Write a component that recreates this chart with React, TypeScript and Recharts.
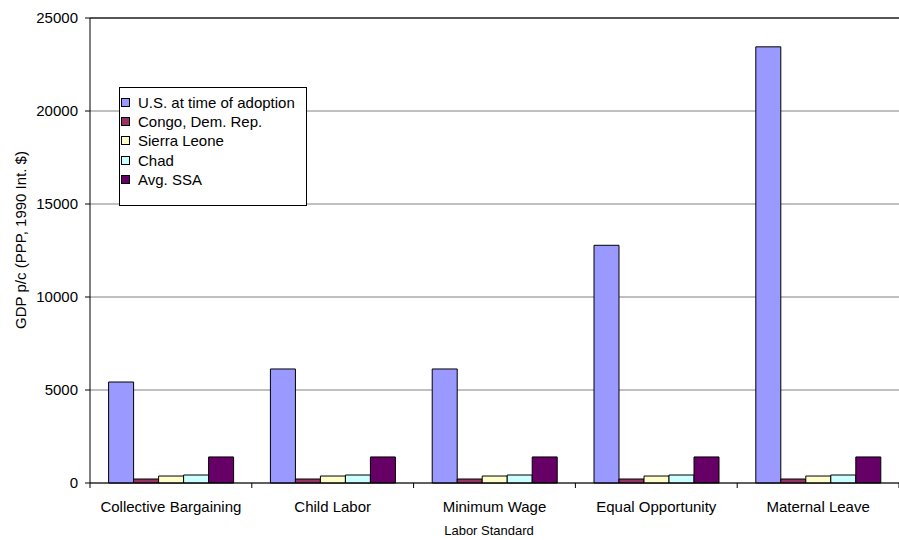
import React from 'react';
import { BarChart, Bar, XAxis, YAxis, CartesianGrid, Legend, ReferenceLine } from 'recharts';

// ─── Data ──────────────────────────────────────────────────────────────────────
const CATEGORIES = ['Collective Bargaining', 'Child Labor', 'Minimum Wage', 'Equal Opportunity', 'Maternal Leave'];
const US_AT_ADOPTION = [5430, 6130, 6130, 12780, 23450];
const CONGO = [215, 215, 215, 215, 215];
const SIERRA_LEONE = [375, 375, 375, 375, 375];
const CHAD = [430, 430, 430, 430, 430];
const AVG_SSA = [1400, 1400, 1400, 1400, 1400];
const Y_TICKS = [0, 5000, 10000, 15000, 20000, 25000];

const SERIES = [
    { key: 'us', name: 'U.S. at time of adoption', values: US_AT_ADOPTION, color: '#9999FF' },
    { key: 'congo', name: 'Congo, Dem. Rep.', values: CONGO, color: '#993366' },
    { key: 'sl', name: 'Sierra Leone', values: SIERRA_LEONE, color: '#FFFFCC' },
    { key: 'chad', name: 'Chad', values: CHAD, color: '#CCFFFF' },
    { key: 'ssa', name: 'Avg. SSA', values: AVG_SSA, color: '#660066' },
];

const data = CATEGORIES.map((name, i) => {
    const row: Record<string, string | number> = { name };
    SERIES.forEach(s => { row[s.key] = s.values[i]; });
    return row;
});

// ─── Layout ────────────────────────────────────────────────────────────────────
const W = 899;
const H = 540;
const Y_AXIS_W = 90;
const BAND = (W - Y_AXIS_W) / CATEGORIES.length;
const FONT = '"Liberation Sans", Arial, Helvetica, sans-serif';

// tick marks sit between categories, like Excel
const CategoryTick = ({ x, y, payload, index }: any) => (
    <g>
        <line x1={x - BAND / 2} x2={x - BAND / 2} y1={y - 5} y2={y} stroke="#000" />
        {index === CATEGORIES.length - 1 && (
            <line x1={x + BAND / 2} x2={x + BAND / 2} y1={y - 5} y2={y} stroke="#000" />
        )}
        <text x={x} y={y + 13} dy="0.71em" textAnchor="middle" fill="#000" fontSize={15} fontFamily={FONT}>
            {payload.value}
        </text>
    </g>
);

const LegendBox = () => (
    <div style={{
        boxSizing: 'border-box', width: 188, height: 119, border: '1px solid #000',
        background: '#fff', paddingTop: 5, fontFamily: FONT, fontSize: 15, color: '#000',
    }}>
        {SERIES.map(s => (
            <div key={s.key} style={{ display: 'flex', alignItems: 'center', height: 19.2, whiteSpace: 'nowrap' }}>
                <span style={{
                    display: 'inline-block', boxSizing: 'border-box', width: 9, height: 9,
                    border: '1px solid #000', background: s.color, marginLeft: 1, marginRight: 8,
                }} />
                {s.name}
            </div>
        ))}
    </div>
);

export default function App() {
    return (
        <div style={{ position: 'absolute', left: 0, top: 0, background: '#fff' }}>
            <BarChart width={W} height={H} data={data} margin={{ top: 18, right: 0, left: 0, bottom: 0 }}
                barCategoryGap="11.5%" barGap={0}>
                <CartesianGrid vertical={false} stroke="#808080" />
                <ReferenceLine y={25000} stroke="#333" strokeWidth={1.5} />
                <XAxis dataKey="name" height={57} tickLine={false} tickSize={5} tickMargin={0}
                    axisLine={{ stroke: '#000' }} tick={<CategoryTick />} interval={0}
                    label={{
                        content: () => (
                            <text x={489} y={535} textAnchor="middle" fontSize={13} fontFamily={FONT} fill="#000">
                                Labor Standard
                            </text>
                        ),
                    }} />
                <YAxis width={Y_AXIS_W} domain={[0, 25000]} ticks={Y_TICKS} interval={0} tickSize={5} tickMargin={7}
                    axisLine={{ stroke: '#000' }} tickLine={{ stroke: '#000' }}
                    tick={{ fill: '#000', fontSize: 15, fontFamily: FONT }}
                    label={{
                        content: () => (
                            <text transform="rotate(-90)" x={-240} y={26} textAnchor="middle" fontSize={15} fontFamily={FONT} fill="#000">
                                GDP p/c (PPP, 1990 Int. $)
                            </text>
                        ),
                    }} />
                <Legend layout="vertical" align="center" verticalAlign="middle" content={<LegendBox />}
                    wrapperStyle={{ left: 119, top: 87, width: 188, height: 119 }} />
                {SERIES.map(s => (
                    <Bar key={s.key} dataKey={s.key} name={s.name} fill={s.color} stroke="#000" strokeWidth={1}
                        isAnimationActive={false} />
                ))}
            </BarChart>
        </div>
    );
}
